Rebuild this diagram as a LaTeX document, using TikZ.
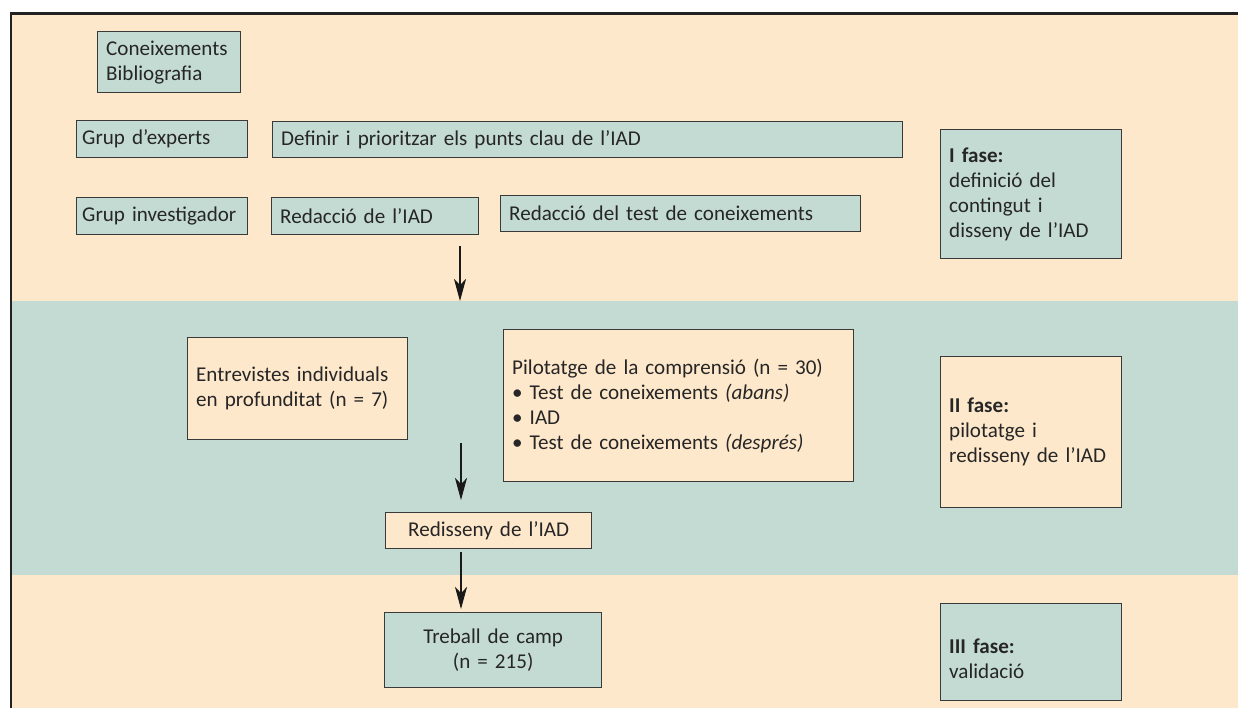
\documentclass[tikz,border=0pt]{standalone}
\usepackage{fontspec}
\setmainfont{Carlito}
\usepackage{tikz}
\usetikzlibrary{arrows.meta}

\definecolor{peach}{RGB}{254,232,203}
\definecolor{teal}{RGB}{196,219,211}
\definecolor{boxline}{RGB}{58,58,58}
\definecolor{frame}{RGB}{34,34,34}

\tikzset{
  tbox/.style={draw=boxline,line width=0.8pt,anchor=north west,align=left,
    inner xsep=0.17cm,inner ysep=0pt,font=\fontsize{12}{14.2}\selectfont,text=black!85},
  gbox/.style={tbox,fill=teal},
  pbox/.style={tbox,fill=peach},
  flow/.style={-{Stealth[length=0.44cm,width=0.24cm,inset=0.12cm]},line width=0.6pt,black!90}
}

\begin{document}
\begin{tikzpicture}[x=0.02cm,y=-0.02cm]
\useasboundingbox (0,0) rectangle (1238,708);
% bands
\fill[peach] (12,13) rectangle (1238,301);
\fill[teal] (12,301) rectangle (1238,575);
\fill[peach] (12,575) rectangle (1238,708);
\draw[frame,line width=1.7pt] (11,708) -- (11,13) -- (1238,13);

% I fase
\node[gbox,text width=2.52cm,minimum height=1.22cm] (b1) at (97,31) {Coneixements\\Bibliografia};
\node[gbox,inner xsep=0.11cm,text width=3.20cm,minimum height=0.74cm] (b2) at (76,120) {Grup d’experts};
\node[gbox,text width=12.26cm,minimum height=0.72cm] (b3) at (272,121) {Definir i prioritzar els punts clau de l’IAD};
\node[gbox,inner xsep=0.11cm,text width=3.20cm,minimum height=0.74cm] (b4) at (76,197) {Grup investigador};
\node[gbox,text width=3.80cm,minimum height=0.74cm] (b5) at (271,197) {Redacció de l’IAD};
\node[gbox,text width=6.86cm,minimum height=0.72cm] (b6) at (500,195) {Redacció del test de coneixements};
\node[gbox,text width=3.28cm,minimum height=2.58cm] (b7) at (940,129) {\textbf{I fase:}\\definició del\\contingut i\\disseny de l’IAD};

% II fase
\node[pbox,text width=4.06cm,minimum height=2.04cm] (b8) at (187,337) {Entrevistes individuals\\en profunditat (n = 7)};
\node[pbox,text width=6.66cm,minimum height=3.04cm] (b9) at (503,329) {Pilotatge de la comprensió (n = 30)\\\textbullet\ Test de coneixements \textit{(abans)}\\\textbullet\ IAD\\\textbullet\ Test de coneixements \textit{(després)}};
\node[pbox,text width=3.78cm,minimum height=0.72cm,align=center] (b10) at (385,512) {Redisseny de l’IAD};
\node[pbox,text width=3.28cm,minimum height=3.02cm] (b11) at (940,356) {\textbf{II fase:}\\pilotatge i\\redisseny de l’IAD};

% III fase
\node[gbox,text width=4.00cm,minimum height=1.50cm,align=center] (b12) at (384,612) {Treball de camp\\(n = 215)};
\node[gbox,text width=3.28cm,minimum height=1.94cm] (b13) at (940,603) {\rule{0pt}{0.55cm}\textbf{III fase:}\\validació};

\coordinate (a1) at (460,246);
\coordinate (a2) at (460,301);
\coordinate (a3) at (461,443);
\coordinate (a4) at (461,552);

\draw[flow] (a1) -- (a2);
\draw[flow,shorten >=0.24cm] (a3) -- (a3 |- b10.north);
\draw[flow,shorten >=0.06cm] (a4) -- (a4 |- b12.north);
\end{tikzpicture}
\end{document}
